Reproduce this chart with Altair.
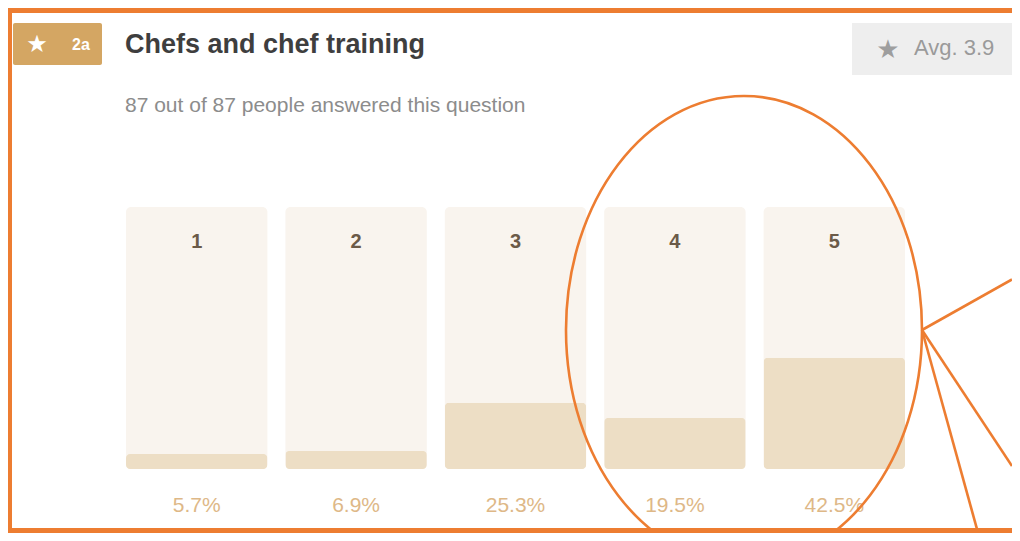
import altair as alt
import pandas as pd

# ---- data ----
categories = ["1", "2", "3", "4", "5"]
percent = [5.7, 6.9, 25.3, 19.5, 42.5]

title_text = "Chefs and chef training"
subtitle_text = "87 out of 87 people answered this question"
badge_text = "2a"
avg_text = "Avg. 3.9"

ORANGE = "#ED7D31"
FONT = "Liberation Sans"

df = pd.DataFrame({"cat": categories, "pct": percent})
one = pd.DataFrame({"k": [0]})

x_enc = alt.X("cat:N", sort=categories, axis=None,
              scale=alt.Scale(paddingInner=0.113, paddingOuter=0))
y_scale = alt.Scale(domain=[0, 100], nice=False, zero=True)

base = alt.Chart(df)
dec = alt.Chart(one)

bg = base.mark_bar(color="#F9F4EE", cornerRadius=5).encode(
    x=x_enc,
    y=alt.YDatum(100, type="quantitative", scale=y_scale, axis=None),
)
fg = base.mark_bar(color="#EDDEC5", cornerRadius=4).encode(
    x=x_enc,
    y=alt.Y("pct:Q", scale=y_scale, axis=None),
)
cat_labels = base.mark_text(
    font=FONT, fontSize=20, fontWeight="bold", color="#6B5A48", baseline="alphabetic"
).encode(x=x_enc, y=alt.value(41), text="cat:N")

pct_labels = base.transform_calculate(
    label="format(datum.pct, '.1f') + '%'"
).mark_text(
    font=FONT, fontSize=21, color="#DEB887", baseline="alphabetic"
).encode(x=x_enc, y=alt.value(305), text="label:N")

# ---- header ----
badge = dec.mark_rect(color="#D4A663", cornerRadius=2).encode(
    x=alt.value(-113), x2=alt.value(-24), y=alt.value(-184), y2=alt.value(-142))
badge_star = dec.mark_text(text="★", font="DejaVu Sans", fontSize=24, color="white",
                           align="center", baseline="middle").encode(
    x=alt.value(-89), y=alt.value(-162))
badge_lbl = dec.mark_text(text=badge_text, font=FONT, fontSize=16, fontWeight="bold",
                          color="white", align="center", baseline="middle").encode(
    x=alt.value(-45), y=alt.value(-162))
title = dec.mark_text(text=title_text, font=FONT, fontSize=27, fontWeight="bold",
                      color="#3E3E3E", align="left", baseline="alphabetic").encode(
    x=alt.value(-1), y=alt.value(-154))
subtitle = dec.mark_text(text=subtitle_text, font=FONT, fontSize=21, color="#8C8C8C",
                         align="left", baseline="alphabetic").encode(
    x=alt.value(-1), y=alt.value(-95))
avg_box = dec.mark_rect(color="#EEEEEE").encode(
    x=alt.value(726), x2=alt.value(886), y=alt.value(-184), y2=alt.value(-132))
avg_star = dec.mark_text(text="★", font="DejaVu Sans", fontSize=26, color="#9E9E9E",
                         align="center", baseline="middle").encode(
    x=alt.value(762), y=alt.value(-157))
avg_lbl = dec.mark_text(text=avg_text, font=FONT, fontSize=22, color="#9A9A9A",
                        align="left", baseline="alphabetic").encode(
    x=alt.value(788), y=alt.value(-152))

# ---- annotation: ellipse and callout lines ----
ellipse_path = ("M 0.7607 0 C 0.7607 0.5523 0.4201 1 0 1 "
                "C -0.4201 1 -0.7607 0.5523 -0.7607 0 "
                "C -0.7607 -0.5523 -0.4201 -1 0 -1 "
                "C 0.4201 -1 0.7607 -0.5523 0.7607 0 Z")
ellipse = dec.mark_point(shape=ellipse_path, size=468 * 468, filled=False,
                         stroke=ORANGE, strokeWidth=2.6, opacity=1).encode(
    x=alt.value(618), y=alt.value(123))

def callout(x2, y2):
    return dec.mark_rule(color=ORANGE, strokeWidth=2.6).encode(
        x=alt.value(796), y=alt.value(123), x2=alt.value(x2), y2=alt.value(y2))

lines = [callout(886, 72.5), callout(886, 259), callout(854, 333)]

# ---- frame ----
def frame(x, x2, y, y2):
    return dec.mark_rect(color=ORANGE).encode(
        x=alt.value(x), x2=alt.value(x2), y=alt.value(y), y2=alt.value(y2))

frames = [frame(-118, 886, -199, -194), frame(-118, -114, -199, 326),
          frame(-118, 886, 321, 326)]

chart = alt.layer(
    bg, fg, cat_labels, pct_labels,
    badge, badge_star, badge_lbl, title, subtitle, avg_box, avg_star, avg_lbl,
    ellipse, *lines, *frames,
).properties(
    width=779, height=262,
    padding={"left": 118, "right": 107, "top": 199, "bottom": 64},
    autosize=alt.AutoSizeParams(type="none"),
    background="white",
).configure_view(stroke=None)

chart.save("out.html", embed_options={"renderer": "svg", "actions": False})
